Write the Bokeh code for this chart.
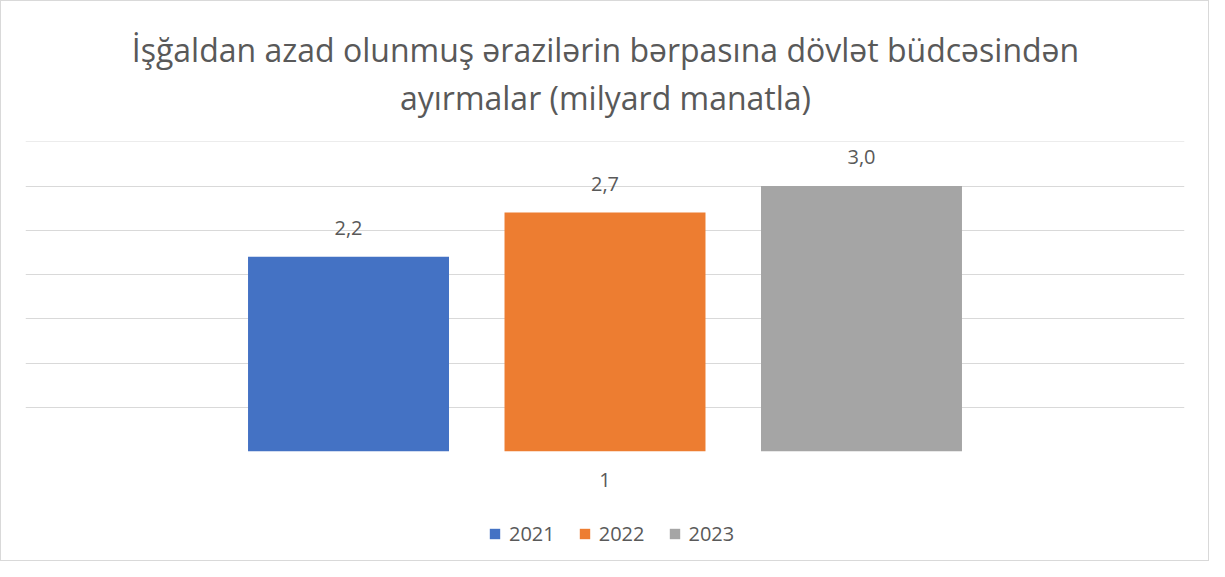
from bokeh.plotting import figure
from bokeh.layouts import column
from bokeh.models import (Range1d, SingleIntervalTicker, LabelSet, ColumnDataSource,
                          Legend, LegendItem)
from bokeh.core.properties import value
from bokeh.transform import dodge
from bokeh.embed import file_html
from bokeh.resources import INLINE

# ---- data ----
categories = ["1"]
years = ["2021", "2022", "2023"]
values = [2.2, 2.7, 3.0]
value_labels = ["2,2", "2,7", "3,0"]
colors = ["#4472C4", "#ED7D31", "#A5A5A5"]
title_lines = ["İşğaldan azad olunmuş ərazilərin bərpasına dövlət büdcəsindən",
               "ayırmalar (milyard manatla)"]

FONT = "Open Sans"
TXT = "#595959"
W = 1207

# ---- title strip ----
pt = figure(width=W, height=138, x_range=Range1d(0, W), y_range=Range1d(0, 138),
            x_axis_type=None, y_axis_type=None, output_backend="svg", toolbar_location=None,
            min_border=0)
pt.outline_line_color = None
pt.text(x=[604, 604], y=[90, 42], text=title_lines, text_align="center",
        text_baseline="alphabetic", text_font=value(FONT), text_font_size="32px",
        text_color=TXT)

# ---- main chart ----
p = figure(x_range=categories, y_range=Range1d(0, 3.503), frame_width=1159, frame_height=310,
           output_backend="svg", toolbar_location=None,
           min_border_left=24, min_border_right=24, min_border_top=2, min_border_bottom=50)
p.title.visible = False
p.outline_line_color = None

p.yaxis.visible = False
p.ygrid.ticker = SingleIntervalTicker(interval=0.5)
p.ygrid.grid_line_color = "#D9D9D9"
p.ygrid.grid_line_width = 1
p.xgrid.visible = False

p.xaxis.axis_line_color = None
p.xaxis.major_tick_line_color = None
p.xaxis.minor_tick_line_color = None
p.xaxis.major_tick_out = 0
p.xaxis.major_label_text_font = FONT
p.xaxis.major_label_text_font_size = "20px"
p.xaxis.major_label_text_color = TXT
p.xaxis.major_label_standoff = 21

step = 0.2213
bar_w = 0.1734
for i, (v, lab, c) in enumerate(zip(values, value_labels, colors)):
    src = ColumnDataSource(dict(cat=categories, val=[v], lab=[lab]))
    off = (i - 1) * step
    p.vbar(x=dodge("cat", off, range=p.x_range), top="val", width=bar_w, source=src,
           fill_color=c, line_color=None)
    p.add_layout(LabelSet(x=dodge("cat", off, range=p.x_range), y="val", text="lab", source=src,
                          y_offset=22, text_align="center", text_baseline="alphabetic",
                          text_font=value(FONT), text_font_size="20px", text_color=TXT))

# ---- legend strip (zero-height swatch carriers, only for the legend keys) ----
pl = figure(width=W, height=59, x_range=Range1d(0, 1), y_range=Range1d(0, 1),
            x_axis_type=None, y_axis_type=None, output_backend="svg", toolbar_location=None,
            min_border=0)
pl.outline_line_color = None
items = []
for yr, c in zip(years, colors):
    r = pl.vbar(x=[0.5], bottom=[0], top=[0], width=0.0, fill_color=c, line_color=None)
    items.append(LegendItem(label=yr, renderers=[r]))
legend = Legend(items=items, orientation="horizontal", location=(463, 13),
                label_text_font=FONT, label_text_font_size="20px", label_text_color=TXT,
                glyph_width=13, glyph_height=13, label_standoff=8, spacing=23,
                label_height=24, border_line_color=None, background_fill_alpha=0,
                margin=0, padding=0)
pl.add_layout(legend)

layout = column(pt, p, pl, spacing=0, styles={"border": "1px solid #D9D9D9"})

open("out.html", "w").write(file_html(layout, INLINE))
